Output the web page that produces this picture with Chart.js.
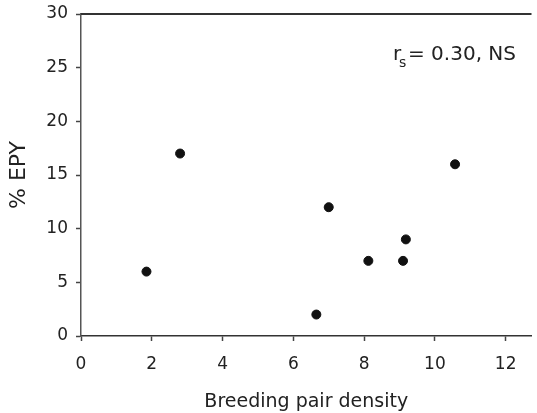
<!DOCTYPE html>
<html>
<head>
<meta charset="utf-8">
<script src="https://cdn.jsdelivr.net/npm/chart.js@4"></script>
<style>
  html, body { margin: 0; padding: 0; background: #fff; }
  #wrap { width: 537px; height: 413px; position: relative; }
</style>
</head>
<body>
<div id="wrap"><canvas id="scatter-chart"></canvas></div>
<script>
// values
var density = [1.85, 2.8, 6.65, 7.0, 8.12, 9.1, 9.18, 10.57];
var epy     = [6, 17, 2, 12, 7, 7, 9, 16];
var xTicks  = [0, 2, 4, 6, 8, 10, 12];
var yTicks  = [0, 5, 10, 15, 20, 25, 30];

var points = density.map(function (d, i) { return { x: d, y: epy[i] }; });
var font = "'DejaVu Sans', Arial, sans-serif";
var ink = '#222';

// top frame line + the r_s label
var extras = {
    id: 'extras',
    afterDraw: function (chart) {
        var ctx = chart.ctx, a = chart.chartArea;
        ctx.save();
        ctx.strokeStyle = '#333';
        ctx.lineWidth = 2;
        ctx.beginPath();
        ctx.moveTo(a.left, a.top);
        ctx.lineTo(a.right, a.top);
        ctx.stroke();

        ctx.fillStyle = ink;
        ctx.textBaseline = 'alphabetic';
        ctx.font = '20px ' + font;
        ctx.fillText('r', 393, 60);
        ctx.font = '14px ' + font;
        ctx.fillText('s', 399, 67);
        ctx.font = '20px ' + font;
        ctx.fillText('= 0.30, NS', 408, 60);
        ctx.restore();
    }
};

var myScatter = new Chart(document.getElementById('scatter-chart'), {
    type: 'scatter',
    data: {
        datasets: [{
            data: points,
            backgroundColor: '#111',
            borderColor: '#111',
            pointRadius: 4.5,
            pointHoverRadius: 4.5
        }]
    },
    options: {
        responsive: true,
        maintainAspectRatio: false,
        animation: false,
        layout: { padding: { top: 14, right: 4, left: 0, bottom: 0 } },
        plugins: { legend: { display: false }, tooltip: { enabled: false } },
        scales: {
            x: {
                type: 'linear',
                min: 0,
                max: 12.73,
                afterBuildTicks: function (s) {
                    s.ticks = xTicks.map(function (v) { return { value: v }; });
                },
                afterFit: function (s) {
                    s.height = 77;
                    s.paddingLeft = 0;
                    s.paddingRight = 0;
                },
                grid: { drawOnChartArea: false, tickLength: 5, tickColor: '#444', tickWidth: 1.5 },
                border: { color: '#333', width: 1.5 },
                ticks: { color: ink, font: { family: font, size: 17 }, padding: 13, maxRotation: 0 },
                title: { display: true, text: 'Breeding pair density', color: ink,
                         font: { family: font, size: 19 }, padding: { top: 0, bottom: 0 } }
            },
            y: {
                min: 0,
                max: 30,
                afterBuildTicks: function (s) {
                    s.ticks = yTicks.map(function (v) { return { value: v }; });
                },
                afterFit: function (s) {
                    s.width = 81;
                    s.paddingTop = 0;
                    s.paddingBottom = 0;
                },
                grid: { drawOnChartArea: false, tickLength: 5, tickColor: '#444', tickWidth: 1.5 },
                border: { color: '#555', width: 1.5 },
                ticks: { color: ink, font: { family: font, size: 17 }, padding: 8 },
                title: { display: true, text: '% EPY', color: ink,
                         font: { family: font, size: 22 }, padding: { top: 6, bottom: 6 } }
            }
        }
    },
    plugins: [extras]
});
</script>
</body>
</html>
